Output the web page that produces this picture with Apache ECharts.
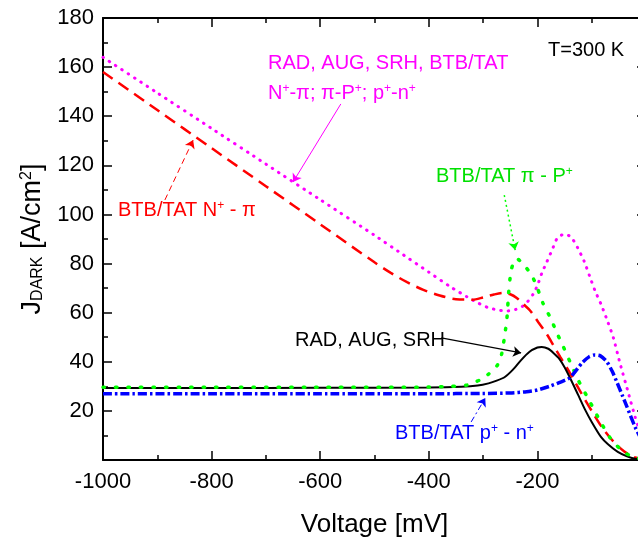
<!DOCTYPE html>
<html>
<head>
<meta charset="utf-8">
<script src="https://cdn.jsdelivr.net/npm/echarts@6/dist/echarts.min.js"></script>
<style>
  html, body { margin: 0; padding: 0; background: #fff; }
  #main { width: 638px; height: 545px; }
</style>
</head>
<body>
<div id="main"></div>
<script>
// voltage [mV] / current density [A/cm2]
var allV = [-1000,-900,-800,-700,-600,-500,-450,-400,-360,-330,-310,-290,-270,-255,-240,-228,-218,-208,-200,-192,-183,-173,-163,-150,-138,-126,-114,-104,-94,-82,-70,-60,-48,-34,-20,-10,0];
var allJ = [164,149.5,135,120.5,106,91.5,84,76.5,70.5,66.5,64,62,61,60.7,61.3,62.5,64.5,67.5,71,76,80.5,85.5,90.5,92,90.8,86.5,81,75,69,63,56,49.7,39.5,28.5,17.5,11,7];

var npV = [-1000,-900,-800,-700,-600,-500,-470,-440,-410,-380,-350,-320,-300,-280,-263,-250,-238,-226,-214,-198,-182,-170,-158,-140,-120,-100,-80,-60,-40,-20,0];
var npJ = [158,142.5,127,111.5,96,80.5,76.2,72.4,69.3,67,65.5,65.3,66.2,67.4,68,67.5,66,63.5,61,56,51,46.5,42,35.4,27.5,20,13,7.5,3.5,1,0.3];

var srhV = [-1000,-800,-600,-400,-340,-310,-290,-275,-260,-245,-230,-215,-200,-192,-180,-170,-160,-150,-138,-125,-112,-100,-83,-70,-52,-35,-18,0];
var srhJ = [29.3,29.3,29.4,29.5,29.8,30.3,31.2,32.3,33.8,36.8,40.7,44,45.8,46,45.3,43.5,41.3,37.8,32.6,26.5,20.4,15.5,9.4,6.4,3.3,1.5,0.4,0.1];

var ppV = [-1000,-800,-600,-400,-360,-330,-306,-290,-274,-266,-260,-256,-253,-249,-244,-238,-226,-210,-200,-190,-175,-164,-152,-140,-125,-103,-85,-66,-42,-20,0];
var ppJ = [29.6,29.6,29.6,29.7,30,30.5,32.6,35,38.5,43,51,58,68,76.5,80.5,82,79.8,75,70,64,57.4,51.7,46,40,32.6,23.6,16,9,3.3,1,0.2];

var pnV = [-1000,-800,-600,-400,-300,-250,-220,-200,-175,-160,-140,-118,-105,-94,-84,-72,-62,-53,-44,-35,-20,-10,0];
var pnJ = [27,27,27,27,27.1,27.3,27.8,28.5,30.2,31.5,33.5,39.5,42,42.8,42.4,40,36,31.4,26.5,21.6,13.4,9,6];

function pairs(v, j) {
    return v.map(function (x, i) { return [x, j[i]]; });
}

function arrow(p1, p2) {
    return [[{coord: p1, symbol: 'none'}, {coord: p2, symbol: 'arrow', symbolSize: 8}]];
}

var font = 'Liberation Sans, Arial, sans-serif';
var myChart = echarts.init(document.getElementById('main'));

function axisX(pos, labels) {
    return {
        type: 'value', position: pos, min: -1000, max: 0, interval: 200,
        axisLine: {onZero: false, lineStyle: {color: '#000', width: 2}},
        axisTick: {inside: true, length: 9, lineStyle: {color: '#000', width: 1.5}},
        minorTick: {show: true, splitNumber: 2, length: 5, lineStyle: {color: '#000', width: 1.5}},
        splitLine: {show: false},
        axisLabel: {show: labels, fontSize: 22, color: '#000', margin: 11, fontFamily: font,
            formatter: function (v) { return v === 0 ? '' : v; }}
    };
}
function axisY(pos, labels) {
    return {
        type: 'value', position: pos, min: 0, max: 180, interval: 20,
        axisLine: {show: true, onZero: false, lineStyle: {color: '#000', width: 2}},
        axisTick: {inside: true, length: 9, lineStyle: {color: '#000', width: 1.5}},
        minorTick: {show: true, splitNumber: 2, length: 5, lineStyle: {color: '#000', width: 1.5}},
        splitLine: {show: false},
        axisLabel: {show: labels, fontSize: 22, color: '#000', margin: 9, fontFamily: font,
            formatter: function (v) { return v === 0 ? '' : v; }}
    };
}

var xb = axisX('bottom', true);
xb.name = 'Voltage [mV]';
xb.nameLocation = 'middle';
xb.nameGap = 52;
xb.nameTextStyle = {fontSize: 26, color: '#000', fontFamily: font};
var yl = axisY('left', true);
yl.name = 'J{sub|DARK} [A/cm{sup|2}]';
yl.nameLocation = 'middle';
yl.nameGap = 57;
yl.nameTextStyle = {
    fontSize: 27, color: '#000', fontFamily: font,
    rich: {
        sub: {fontSize: 16, color: '#000', fontFamily: font, verticalAlign: 'bottom', lineHeight: 14},
        sup: {fontSize: 16, color: '#000', fontFamily: font, verticalAlign: 'top', lineHeight: 14}
    }
};

var supRich = {sup: {fontSize: 12, verticalAlign: 'top', lineHeight: 12, fontFamily: font}};
function note(x, y, text, color) {
    var r = {sup: Object.assign({fill: color}, supRich.sup)};
    return {type: 'text', x: x, y: y, z: 100,
        style: {text: text, fill: color, fontSize: 20, fontFamily: font, verticalAlign: 'middle', rich: r}};
}

option = {
    animation: false,
    backgroundColor: '#fff',
    grid: {left: 103, right: -8, top: 18, bottom: 85, outerBoundsMode: 'none', containLabel: false},
    xAxis: [xb, axisX('top', false)],
    yAxis: [yl, axisY('right', false)],
    graphic: [
        note(268, 63, 'RAD, AUG, SRH, BTB/TAT', '#ff00ff'),
        note(268, 93, 'N{sup|+}-π; π-P{sup|+}; p{sup|+}-n{sup|+}', '#ff00ff'),
        note(548, 50, 'T=300 K', '#000'),
        note(118, 210, 'BTB/TAT N{sup|+} - π', '#ff0000'),
        note(436, 176, 'BTB/TAT π - P{sup|+}', '#00e000'),
        note(295, 340, 'RAD, AUG, SRH', '#000'),
        note(395, 433, 'BTB/TAT p{sup|+} - n{sup|+}', '#0000ff')
    ],
    series: [
        {
            name: 'all', type: 'line', data: pairs(allV, allJ), symbol: 'none', smooth: 0.2,
            lineStyle: {color: '#ff00ff', width: 3, type: [0.5, 7], cap: 'round'},
            markLine: {silent: true, label: {show: false}, lineStyle: {color: '#ff00ff', width: 1, type: 'solid'},
                data: arrow([-562, 145], [-650, 113.2])}
        },
        {
            name: 'np', type: 'line', data: pairs(npV, npJ), symbol: 'none', smooth: 0.3,
            lineStyle: {color: '#ff0000', width: 2.5, type: [12, 7]},
            markLine: {silent: true, label: {show: false}, lineStyle: {color: '#ff0000', width: 1, type: [6, 4]},
                data: arrow([-886, 105.9], [-834, 130.3])}
        },
        {
            name: 'srh', type: 'line', data: pairs(srhV, srhJ), symbol: 'none', smooth: 0.2,
            lineStyle: {color: '#000', width: 2, type: 'solid'},
            markLine: {silent: true, label: {show: false}, lineStyle: {color: '#000', width: 1.2, type: 'solid'},
                data: arrow([-377, 49.7], [-230, 43.6])}
        },
        {
            name: 'pp', type: 'line', data: pairs(ppV, ppJ), symbol: 'none', smooth: 0.2,
            lineStyle: {color: '#00ff00', width: 3.5, type: [1.5, 11], cap: 'round'},
            markLine: {silent: true, label: {show: false}, lineStyle: {color: '#00ff00', width: 1.5, type: [2, 3]},
                data: arrow([-261, 107.9], [-241, 85.5])}
        },
        {
            name: 'pn', type: 'line', data: pairs(pnV, pnJ), symbol: 'none', smooth: 0.2,
            lineStyle: {color: '#0000ff', width: 3.5, type: [9, 3, 2.5, 3]},
            markLine: {silent: true, label: {show: false}, lineStyle: {color: '#0000ff', width: 1, type: [6, 3, 2, 3]},
                data: arrow([-322, 15.5], [-296, 25.2])}
        }
    ]
};
myChart.setOption(option);
</script>
</body>
</html>
